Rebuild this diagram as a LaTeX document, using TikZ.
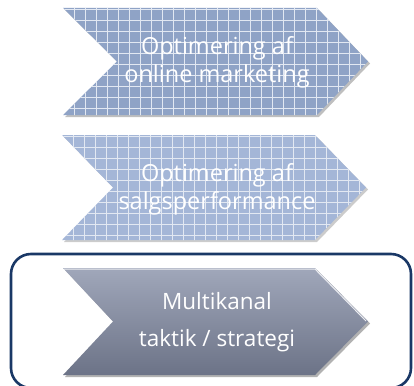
\documentclass[tikz,border=0pt]{standalone}
\usepackage{fontspec}
\setmainfont{Open Sans}
\usetikzlibrary{shadows}
\definecolor{gridblue}{HTML}{8FA3C6}
\definecolor{gridbluelt}{HTML}{A4B6D7}
\definecolor{gridline}{HTML}{E2E8F2}
\definecolor{slatetop}{HTML}{A0A7BA}
\definecolor{slatebot}{HTML}{6C7387}
\definecolor{framenavy}{HTML}{1A3866}
\tikzset{
  label/.style={text=white, font=\fontsize{23.5}{28}\selectfont, align=center},
  labelwide/.style={text=white, font=\fontsize{22.5}{37}\selectfont, align=center},
  frame/.style={draw=framenavy, line width=2.6pt, rounded corners=20pt},
}
% chevron outline: left x, top y, bottom y, notch x, shoulder x, tip x
\newcommand{\chevronpath}[6]{(#1,#2) -- (#5,#2) -- (#6,{(#2+#3)/2}) -- (#5,#3) -- (#1,#3) -- (#4,{(#2+#3)/2}) -- cycle}
\begin{document}
\begin{tikzpicture}[x=1pt,y=-1pt]
  \useasboundingbox (0,0) rectangle (414,385);

  % first chevron, gridded
  \fill[black!25] \chevronpath{65}{10}{117}{119}{319}{370};
  \fill[gridblue] \chevronpath{63}{8}{115}{117}{317}{368};
  \begin{scope}
    \clip \chevronpath{63}{8}{115}{117}{317}{368};
    \foreach \gx in {0,...,28} \draw[gridline, line width=0.9pt] ({63+11*\gx},0) -- ({63+11*\gx},130);
    \foreach \gy in {0,...,10} \draw[gridline, line width=0.9pt] (50,{9+11*\gy}) -- (380,{9+11*\gy});
  \end{scope}
  \node[label] (c1) at (217,62) {Optimering af\\online marketing};

  % second chevron, gridded
  \fill[black!20] \chevronpath{64}{137}{242}{115}{317}{368};
  \fill[gridbluelt] \chevronpath{62}{135}{240}{113}{315}{366};
  \begin{scope}
    \clip \chevronpath{62}{135}{240}{113}{315}{366};
    \foreach \gx in {0,...,28} \draw[gridline, line width=0.9pt] ({62+11*\gx},120) -- ({62+11*\gx},250);
    \foreach \gy in {0,...,10} \draw[gridline, line width=0.9pt] (50,{136+11*\gy}) -- (380,{136+11*\gy});
  \end{scope}
  \node[label] (c2) at (217,189) {Optimering af\\salgsperformance};

  % framed third chevron
  \draw[frame] (11,254) rectangle (411,388);
  \fill[black!30] \chevronpath{65}{270}{377}{115}{317}{370};
  \shade[top color=slatetop, bottom color=slatebot] \chevronpath{63}{268}{375}{113}{315}{368};
  \draw[white!80!slatetop, line width=1pt] (64,269) -- (315,269) -- (366,321);
  \node[labelwide] (c3) at (217,322) {Multikanal\\taktik / strategi};
\end{tikzpicture}
\end{document}
